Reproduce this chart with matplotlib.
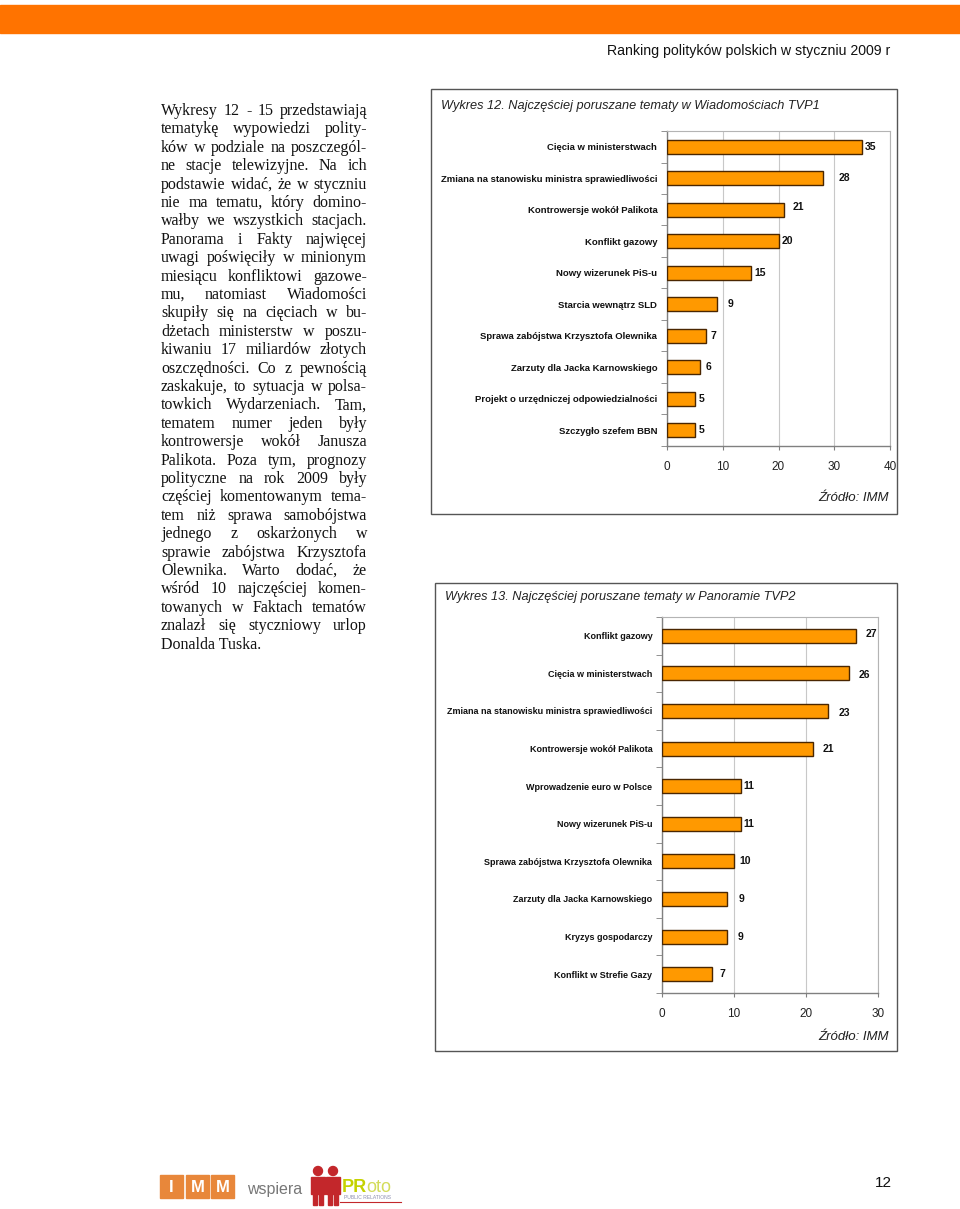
import matplotlib

matplotlib.use("Agg")

import matplotlib.pyplot as plt
import numpy as np
from matplotlib.patches import Circle, Rectangle

W, H = 960, 1209

HEADER = "Ranking polityków polskich w styczniu 2009 r"
PAGE_NO = "12"
SOURCE = "Źródło: IMM"

BODY_LINES = [
    "Wykresy 12 - 15 przedstawiają",
    "tematykę wypowiedzi polity-",
    "ków w podziale na poszczegól-",
    "ne stacje telewizyjne. Na ich",
    "podstawie widać, że w styczniu",
    "nie ma tematu, który domino-",
    "wałby we wszystkich stacjach.",
    "Panorama i Fakty najwięcej",
    "uwagi poświęciły w minionym",
    "miesiącu konfliktowi gazowe-",
    "mu, natomiast Wiadomości",
    "skupiły się na cięciach w bu-",
    "dżetach ministerstw w poszu-",
    "kiwaniu 17 miliardów złotych",
    "oszczędności. Co z pewnością",
    "zaskakuje, to sytuacja w polsa-",
    "towkich Wydarzeniach. Tam,",
    "tematem numer jeden były",
    "kontrowersje wokół Janusza",
    "Palikota. Poza tym, prognozy",
    "polityczne na rok 2009 były",
    "częściej komentowanym tema-",
    "tem niż sprawa samobójstwa",
    "jednego z oskarżonych w",
    "sprawie zabójstwa Krzysztofa",
    "Olewnika. Warto dodać, że",
    "wśród 10 najczęściej komen-",
    "towanych w Faktach tematów",
    "znalazł się styczniowy urlop",
    "Donalda Tuska.",
]

TVP1_TITLE = "Wykres 12. Najczęściej poruszane tematy w Wiadomościach TVP1"
TVP1_TOPICS = [
    "Cięcia w ministerstwach",
    "Zmiana na stanowisku ministra sprawiedliwości",
    "Kontrowersje wokół Palikota",
    "Konflikt gazowy",
    "Nowy wizerunek PiS-u",
    "Starcia wewnątrz SLD",
    "Sprawa zabójstwa Krzysztofa Olewnika",
    "Zarzuty dla Jacka Karnowskiego",
    "Projekt o urzędniczej odpowiedzialności",
    "Szczygło szefem BBN",
]
TVP1_COUNTS = [35, 28, 21, 20, 15, 9, 7, 6, 5, 5]
TVP1_TICKS = [0, 10, 20, 30, 40]

TVP2_TITLE = "Wykres 13. Najczęściej poruszane tematy w Panoramie TVP2"
TVP2_TOPICS = [
    "Konflikt gazowy",
    "Cięcia w ministerstwach",
    "Zmiana na stanowisku ministra sprawiedliwości",
    "Kontrowersje wokół Palikota",
    "Wprowadzenie euro w Polsce",
    "Nowy wizerunek PiS-u",
    "Sprawa zabójstwa Krzysztofa Olewnika",
    "Zarzuty dla Jacka Karnowskiego",
    "Kryzys gospodarczy",
    "Konflikt w Strefie Gazy",
]
TVP2_COUNTS = [27, 26, 23, 21, 11, 11, 10, 9, 9, 7]
TVP2_TICKS = [0, 10, 20, 30]

# value label nudges (pixels right, pixels down), as laid out in the original
TVP1_NUDGE = [(3, 0), (16, 0), (9, -3), (3, 0), (4, 0), (10, 0), (4, 0), (5, 0), (4, 0), (4, 0)]
TVP2_NUDGE = [(9, -2), (9, 2), (11, 2), (9, 0), (2, 0), (2, 0), (5, 0), (12, 0), (11, 0), (7, 0)]

SANS = ["Liberation Sans", "DejaVu Sans"]
SERIF = ["Liberation Serif", "DejaVu Serif"]
BAR_COLOR = "#FF9900"
BAR_EDGE = "#4a2600"


def px_rect(x0, y0, x1, y1):
    return [x0 / W, 1 - y1 / H, (x1 - x0) / W, (y1 - y0) / H]


def draw_chart(fig, rect, topics, counts, ticks, nudges, bar_h, label_size):
    ax = fig.add_axes(px_rect(*rect))
    y = np.arange(len(topics))
    ax.barh(y, counts, height=bar_h, color=BAR_COLOR, edgecolor=BAR_EDGE,
            linewidth=1.0, zorder=3)
    ax.set_xlim(ticks[0], ticks[-1])
    ax.set_ylim(len(topics) - 0.5, -0.5)

    ax.set_xticks(ticks)
    ax.set_xticklabels([str(t) for t in ticks], family=SANS, fontsize=8.5, color="#222222")
    ax.tick_params(axis="x", length=3, color="#808080", pad=8)

    ax.set_yticks(y)
    ax.set_yticklabels(topics, family=SANS, fontsize=label_size, fontweight="bold",
                       color="#111111")
    ax.tick_params(axis="y", which="major", length=0, pad=7)
    ax.set_yticks(np.arange(len(topics) + 1) - 0.5, minor=True)
    ax.tick_params(axis="y", which="minor", length=4, color="#808080")

    ax.xaxis.grid(True, color="#c8c8c8", linewidth=0.8)
    ax.set_axisbelow(True)
    for side in ("left", "bottom"):
        ax.spines[side].set_color("#808080")
        ax.spines[side].set_linewidth(1.0)
    for side in ("top", "right"):
        ax.spines[side].set_color("#b4b4b4")
        ax.spines[side].set_linewidth(0.8)

    for i, (v, (dx, dy)) in enumerate(zip(counts, nudges)):
        ax.annotate(str(v), (v, i), xytext=(dx, -dy), textcoords="offset pixels",
                    ha="left", va="center", family=SANS, fontsize=7.5,
                    fontweight="bold", color="#111111")
    return ax


def justify(bg, renderer, lines, x0, x1, y0, dy, **kw):
    for k, line in enumerate(lines):
        yy = y0 + k * dy
        words = line.split()
        if k == len(lines) - 1 or len(words) == 1:
            bg.text(x0, yy, line, va="baseline", ha="left", **kw)
            continue
        arts = [bg.text(0, yy, w, va="baseline", ha="left", **kw) for w in words]
        widths = [a.get_window_extent(renderer).width for a in arts]
        gap = (x1 - x0 - sum(widths)) / (len(words) - 1)
        x = x0
        for a, w in zip(arts, widths):
            a.set_x(x)
            x += w + gap


def draw_logo(bg):
    orange = "#E8873A"
    for x0, letter in zip((160, 186, 211), "IMM"):
        bg.add_patch(Rectangle((x0, 1175), 23, 23, color=orange))
        bg.text(x0 + 11.5, 1187, letter, ha="center", va="center", color="white",
                fontsize=12, fontweight="bold", family=SANS)
    bg.text(247, 1194, "wspiera", ha="left", va="baseline", color="#777777",
            fontsize=11.5, family=SANS)
    red = "#C3272B"
    for cx in (318, 333):
        bg.add_patch(Circle((cx, 1171), 4.5, color=red))
        bg.add_patch(Rectangle((cx - 7, 1177), 14, 17, color=red))
        bg.add_patch(Rectangle((cx - 5, 1194), 4, 11, color=red))
        bg.add_patch(Rectangle((cx + 1, 1194), 4, 11, color=red))
    bg.text(342, 1192, "PR", ha="left", va="baseline", color="#C5D200",
            fontsize=13, fontweight="bold", family=SANS)
    bg.text(366, 1192, "oto", ha="left", va="baseline", color="#D3DC5A",
            fontsize=13, family=SANS)
    bg.text(344, 1199, "PUBLIC RELATIONS", ha="left", va="baseline", color="#8d8fb0",
            fontsize=3.6, family=SANS)
    bg.plot([340, 401], [1201.5, 1201.5], color=red, lw=0.8)


def main():
    fig = plt.figure(figsize=(W / 100, H / 100), dpi=100)
    fig.patch.set_facecolor("white")

    bg = fig.add_axes([0, 0, 1, 1])
    bg.set_xlim(0, W)
    bg.set_ylim(H, 0)
    bg.axis("off")

    # header band and running title
    bg.add_patch(Rectangle((0, 5), W, 28, color="#FF7300"))
    bg.text(890, 55, HEADER, ha="right", va="baseline", fontsize=10.2,
            family=SANS, color="#111111")

    renderer = fig.canvas.get_renderer()
    justify(bg, renderer, BODY_LINES, 161, 367, 115, 18.4,
            family=SERIF, fontsize=11.5, color="#111111")

    # chart frames and captions
    bg.add_patch(Rectangle((431, 89), 466, 425, fill=False, ec="#555555", lw=1))
    bg.add_patch(Rectangle((435, 583), 462, 468, fill=False, ec="#555555", lw=1))
    bg.text(441, 106, TVP1_TITLE, ha="left", va="center", style="italic",
            fontsize=9.2, family=SANS, color="#222222")
    bg.text(445, 597, TVP2_TITLE, ha="left", va="center", style="italic",
            fontsize=9.2, family=SANS, color="#222222")
    bg.text(889, 498, SOURCE, ha="right", va="center", style="italic",
            fontsize=9.5, family=SANS, color="#222222")
    bg.text(889, 1037, SOURCE, ha="right", va="center", style="italic",
            fontsize=9.5, family=SANS, color="#222222")

    draw_chart(fig, (667, 131, 890, 446), TVP1_TOPICS, TVP1_COUNTS, TVP1_TICKS,
               TVP1_NUDGE, 0.45, 6.8)
    draw_chart(fig, (662, 617, 878, 993), TVP2_TOPICS, TVP2_COUNTS, TVP2_TICKS,
               TVP2_NUDGE, 0.37, 6.5)

    # footer
    draw_logo(bg)
    bg.text(892, 1187, PAGE_NO, ha="right", va="baseline", fontsize=11,
            family=SANS, color="#111111")

    fig.savefig("out.png", dpi=100)
    plt.close(fig)


if __name__ == "__main__":
    main()
